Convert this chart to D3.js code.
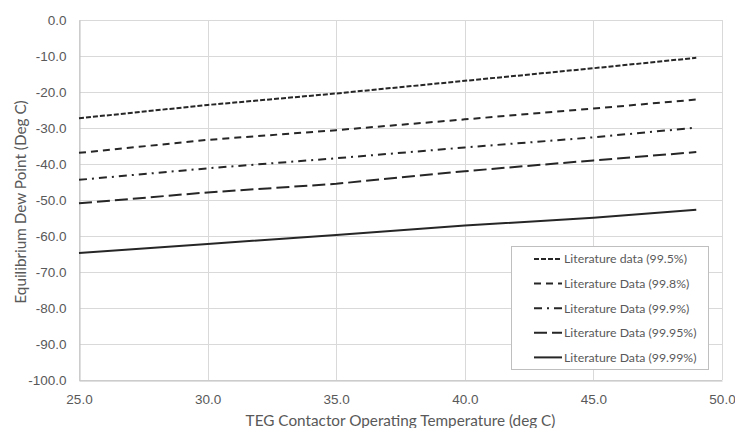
<!DOCTYPE html>
<html>
<head>
<meta charset="utf-8">
<script src="https://cdn.jsdelivr.net/npm/d3@7"></script>
<style>
  html, body { margin: 0; padding: 0; background: #fff; }
  svg { display: block; font-family: Lato, "Open Sans", sans-serif; }
</style>
</head>
<body>
<svg id="chart" width="735" height="428"></svg>
<script>
// Contactor temperature (deg C) at which each dew point is given
const temperatures = [25, 30, 35, 40, 45, 49];

// Equilibrium dew point (deg C) for each TEG purity
const dew995  = [-27.3, -23.6, -20.4, -16.9, -13.4, -10.5];
const dew998  = [-36.9, -33.3, -30.6, -27.6, -24.6, -22.1];
const dew999  = [-44.4, -41.2, -38.4, -35.4, -32.6, -29.9];
const dew9995 = [-50.9, -47.9, -45.5, -42.0, -39.0, -36.7];
const dew9999 = [-64.7, -62.2, -59.7, -57.1, -54.9, -52.7];

const seriesNames = [
  "Literature data (99.5%)",
  "Literature Data (99.8%)",
  "Literature Data (99.9%)",
  "Literature Data (99.95%)",
  "Literature Data (99.99%)"
];
const seriesValues = [dew995, dew998, dew999, dew9995, dew9999];
const dashPatterns = ["5,2", "7,5", "8,5,2,5", "13,5", null];

const xTicks = [25, 30, 35, 40, 45, 50];
const yTicks = [0, -10, -20, -30, -40, -50, -60, -70, -80, -90, -100];

const xTitle = "TEG Contactor Operating Temperature (deg C)";
const yTitle = "Equilibrium Dew Point (Deg C)";

const svg = d3.select("#chart");
const margin = { left: 79, right: 13, top: 20, bottom: 48 };
const W = 735, H = 428;

const x = d3.scaleLinear().domain([25, 50]).range([margin.left, W - margin.right]);
const y = d3.scaleLinear().domain([-100, 0]).range([H - margin.bottom, margin.top]);

const gridColor = "#d9d9d9";
const textColor = "#595959";
const fmt = d => d.toFixed(1);   // plain hyphen for negatives

// gridlines
svg.append("g").selectAll("line.h").data(yTicks).join("line")
  .attr("x1", x(25)).attr("x2", x(50))
  .attr("y1", d => Math.round(y(d)) + 0.5).attr("y2", d => Math.round(y(d)) + 0.5)
  .attr("stroke", gridColor).attr("stroke-width", 1);
svg.append("g").selectAll("line.v").data(xTicks).join("line")
  .attr("y1", y(0)).attr("y2", y(-100))
  .attr("x1", d => Math.round(x(d)) + 0.5).attr("x2", d => Math.round(x(d)) + 0.5)
  .attr("stroke", gridColor).attr("stroke-width", 1);

// axes
const xAxis = svg.append("g")
  .attr("transform", `translate(0,${Math.round(y(-100)) + 0.5})`)
  .call(d3.axisBottom(x).tickValues(xTicks).tickFormat(fmt).tickSize(0).tickPadding(14));
xAxis.select(".domain").attr("stroke", "#bfbfbf");
xAxis.selectAll("text").attr("fill", textColor).attr("font-size", 13.5);

const yAxis = svg.append("g")
  .attr("transform", `translate(${Math.round(x(25)) + 0.5},0)`)
  .call(d3.axisLeft(y).tickValues(yTicks).tickFormat(fmt).tickSize(0).tickPadding(13));
yAxis.select(".domain").attr("stroke", "#bfbfbf");
yAxis.selectAll("text").attr("fill", textColor).attr("font-size", 13.5);

// axis titles
svg.append("text")
  .attr("x", (x(25) + x(50)) / 2).attr("y", 426)
  .attr("text-anchor", "middle").attr("fill", textColor).attr("font-size", 15.3)
  .text(xTitle);
svg.append("text")
  .attr("transform", `translate(26,${(y(0) + y(-100)) / 2 + 2}) rotate(-90)`)
  .attr("text-anchor", "middle").attr("fill", textColor).attr("font-size", 15.3)
  .text(yTitle);

// series lines
const line = d3.line().x((d, i) => x(temperatures[i])).y(d => y(d));
seriesValues.forEach((vals, k) => {
  svg.append("path")
    .datum(vals)
    .attr("d", line)
    .attr("fill", "none")
    .attr("stroke", "#262626")
    .attr("stroke-width", 2)
    .attr("stroke-dasharray", dashPatterns[k]);
});

// legend
const legend = svg.append("g");
legend.append("rect")
  .attr("x", 511.5).attr("y", 246.5).attr("width", 197).attr("height", 123)
  .attr("fill", "#fff").attr("stroke", "#bfbfbf").attr("stroke-width", 1);
const rows = legend.selectAll("g.row").data(seriesNames).join("g")
  .attr("transform", (d, i) => `translate(0,${259 + i * 24.6})`);
rows.append("line")
  .attr("x1", 534).attr("x2", 562).attr("y1", 0).attr("y2", 0)
  .attr("stroke", "#262626").attr("stroke-width", 2)
  .attr("stroke-dasharray", (d, i) => dashPatterns[i]);
rows.append("text")
  .attr("x", 564).attr("y", 0).attr("dy", "0.35em")
  .attr("fill", textColor).attr("font-size", 12.3)
  .text(d => d);
</script>
</body>
</html>
